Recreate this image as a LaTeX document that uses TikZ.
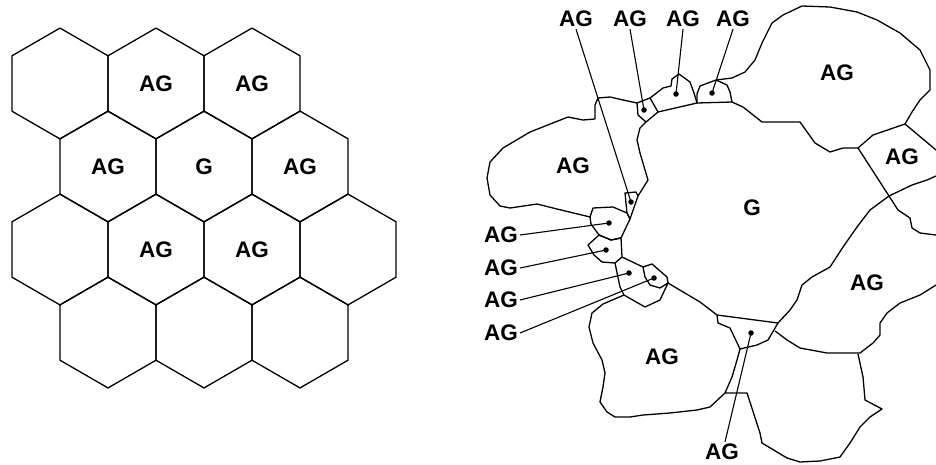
\documentclass[tikz,border=0pt]{standalone}
\usepackage{fontspec}
\setmainfont{Liberation Sans}
\begin{document}
\begin{tikzpicture}[x=1pt,y=-1pt,line join=round,
  edge/.style={line width=1.3pt},
  leader/.style={line width=1.1pt},
  lab/.style={font=\bfseries\fontsize{22.5}{23}\selectfont, inner sep=2pt},
  dotn/.style={circle,fill,inner sep=0pt,minimum size=5.5pt}]
\useasboundingbox (0,0) rectangle (936,464);

% ---------- hexagonal grid ----------
\foreach \cx/\cy in {60/83.5,156/83.5,252/83.5,108/166.5,204/166.5,300/166.5,60/249.5,156/249.5,252/249.5,348/249.5,108/332.5,204/332.5,300/332.5}
  \draw[edge] (\cx,\cy) +(90:55.43) -- +(30:55.43) -- +(-30:55.43) -- +(-90:55.43) -- +(-150:55.43) -- +(150:55.43) -- cycle;

\node[lab] (h1) at (156,84) {AG};
\node[lab] (h2) at (252,84) {AG};
\node[lab] (h3) at (108,167) {AG};
\node[lab] (h4) at (204,167) {G};
\node[lab] (h5) at (300,167) {AG};
\node[lab] (h6) at (156,250) {AG};
\node[lab] (h7) at (252,250) {AG};

% ---------- irregular cells ----------
% left big AG
\draw[edge] (637,103) -- (623,100) -- (610,97) -- (598,98) -- (595,105) -- (595,119) -- (583,120) -- (568,117) -- (530,132) -- (503,148) -- (490,162) -- (487,178) -- (490,195) -- (500,206) -- (510,208) -- (537,204) -- (557,209) -- (590,217);
% left AG / G boundary
\draw[edge] (646,122) -- (640,128) -- (637,140) -- (640,153) -- (645,170) -- (648,180) -- (638,196);
% small top cells
\draw[edge] (637,103) -- (650,98) -- (658,112) -- (646,122) -- (638,115) -- cycle;
\draw[edge] (650,98) -- (663,88) -- (671,86) -- (672,79) -- (679,74) -- (690,82) -- (694,93) -- (697,103) -- (658,112);
\draw[edge] (697,103) -- (697,94) -- (700,86) -- (716,80) -- (727,85) -- (730,92) -- (732,102) -- cycle;
% top right AG
\draw[edge] (716,80) -- (732,78) -- (745,72) -- (755,60) -- (762,43) -- (772,23) -- (783,15) -- (802,6) -- (830,7) -- (857,12) -- (877,20) -- (900,33) -- (920,50) -- (930,70) -- (930,90) -- (920,100) -- (912,112) -- (905,124);
\draw[edge] (732,102) -- (743,107) -- (762,122) -- (800,122) -- (815,143) -- (830,152) -- (843,148) -- (858,148) -- (873,135) -- (905,124) -- (936,150);
% right small AG
\draw[edge] (858,148) -- (889,196) -- (912,185) -- (927,180) -- (936,176);
% lower right AG
\draw[edge] (889,196) -- (898,210) -- (910,218) -- (912,228) -- (920,233) -- (936,235);
\draw[edge] (889,196) -- (870,210) -- (857,227) -- (843,247) -- (830,267) -- (812,277) -- (802,285) -- (797,300) -- (790,310) -- (778,323);
\draw[edge] (775,331) -- (787,340) -- (800,348) -- (827,353) -- (860,353) -- (873,343) -- (880,335) -- (880,323) -- (887,313) -- (900,303) -- (920,295) -- (936,285);
% bottom small cell
\draw[edge] (717,315) -- (778,323) -- (768,340) -- (757,345) -- (740,349) -- (730,328) -- (718,323) -- cycle;
% lower middle region
\draw[edge] (740,349) -- (737,360) -- (732,377) -- (725,393) -- (747,393) -- (760,433) -- (762,443) -- (787,458) -- (800,462) -- (820,461) -- (840,457) -- (850,443) -- (860,427) -- (870,417) -- (882,409) -- (865,400) -- (863,377) -- (858,354);
% G bottom-left boundary
\draw[edge] (668,283) -- (700,302) -- (717,315);
% bottom-left AG
\draw[edge] (624,295) -- (603,304) -- (592,313) -- (589,327) -- (593,343) -- (602,360) -- (605,373) -- (603,387) -- (600,402) -- (607,412) -- (615,417) -- (630,417) -- (643,415) -- (670,413) -- (697,410) -- (710,407) -- (725,393);
% small left cells
\draw[edge] (625,193) -- (636,192) -- (638,196) -- (630,219) -- (627,213) -- cycle;
\draw[edge] (593,208) -- (613,207) -- (627,213) -- (630,219) -- (621,238) -- (611,240) -- (599,235) -- (591,224) -- (590,217) -- cycle;
\draw[edge] (588,245) -- (599,235) -- (611,240) -- (621,238) -- (622,257) -- (615,263) -- (602,262) -- (594,255) -- cycle;
\draw[edge] (622,257) -- (643,267) -- (645,277) -- (650,285) -- (660,288) -- (668,283) -- (660,300) -- (645,307) -- (624,295) -- (620,287) -- (615,263);
\draw[edge] (643,267) -- (652,264) -- (667,277) -- (668,283);

% ---------- region labels ----------
\node[lab] (r1) at (573,166) {AG};
\node[lab] (r2) at (752,208) {G};
\node[lab] (r3) at (837,73) {AG};
\node[lab] (r4) at (902,157) {AG};
\node[lab] (r5) at (867,283) {AG};
\node[lab] (r6) at (662,357) {AG};

% ---------- dots ----------
\node[dotn] (d1) at (631,202) {};
\node[dotn] (d2) at (644,110) {};
\node[dotn] (d3) at (676,94) {};
\node[dotn] (d4) at (712,93) {};
\node[dotn] (d5) at (609,223) {};
\node[dotn] (d6) at (606,250) {};
\node[dotn] (d7) at (629,273) {};
\node[dotn] (d8) at (654,278) {};
\node[dotn] (d9) at (751,333) {};

% ---------- callout labels ----------
\node[lab] (t1) at (576,19) {AG};
\node[lab] (t2) at (630,19) {AG};
\node[lab] (t3) at (683,19) {AG};
\node[lab] (t4) at (733,19) {AG};
\node[lab] (l1) at (501,235) {AG};
\node[lab] (l2) at (501,268) {AG};
\node[lab] (l3) at (501,300) {AG};
\node[lab] (l4) at (501,333) {AG};
\node[lab] (b1) at (722,452) {AG};

\draw[leader] (t1.south) -- (d1.center);
\draw[leader] (t2.south) -- (d2.center);
\draw[leader] (t3.south) -- (d3.center);
\draw[leader] (t4.south) -- (d4.center);
\draw[leader] (l1.east) -- (d5.center);
\draw[leader] (l2.east) -- (d6.center);
\draw[leader] (l3.east) -- (d7.center);
\draw[leader] (l4.east) -- (d8.center);
\draw[leader] ([xshift=3pt]b1.north) -- (d9.center);
\end{tikzpicture}
\end{document}
